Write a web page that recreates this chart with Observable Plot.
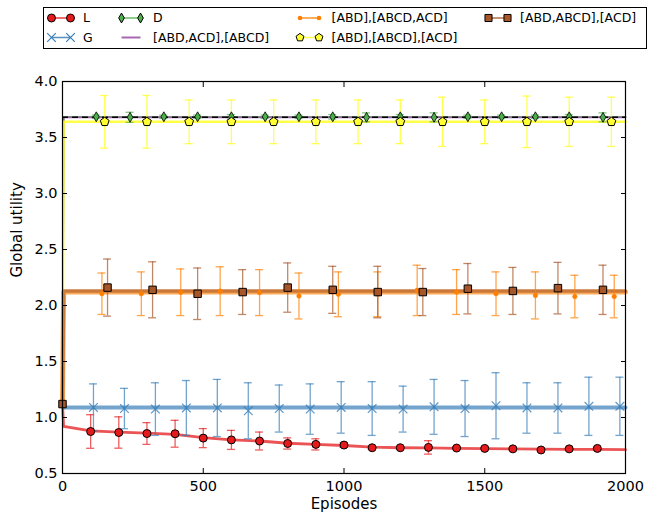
<!DOCTYPE html>
<html><head><meta charset="utf-8">
<script src="https://cdn.jsdelivr.net/npm/d3@7"></script>
<script src="https://cdn.jsdelivr.net/npm/@observablehq/plot@0.6"></script>
<style>
html,body{margin:0;padding:0;background:#fff;}
#wrap{position:relative;width:657px;height:515px;overflow:hidden;}
#wrap svg{position:absolute;left:0;top:0;}
</style></head><body><div id="wrap"></div>
<script>
// ---------- data ----------
const seriesNames = ["L","G","D","[ABD,ACD],[ABCD]","[ABD],[ABCD,ACD]","[ABD],[ABCD],[ACD]","[ABD,ABCD],[ACD]"];
const seriesColors = ["#e41a1c","#377eb8","#4daf4a","#984ea3","#ff7f00","#ffff33","#a65628"];

const xTicks = [0,500,1000,1500,2000];
const xTickLabels = ["0","500","1000","1500","2000"];
const yTicks = [0.5,1.0,1.5,2.0,2.5,3.0,3.5,4.0];
const yTickLabels = ["0.5","1.0","1.5","2.0","2.5","3.0","3.5","4.0"];

// running-average line (episodes grid)
const lineEpisodes = [0,4,100,200,300,400,500,600,700,800,900,1000,1100,1200,1300,1400,1500,1600,1700,1800,1900,2000];
const lineL      = [1.12,0.92,0.88,0.87,0.86,0.85,0.82,0.80,0.79,0.77,0.76,0.75,0.735,0.73,0.728,0.725,0.722,0.72,0.717,0.716,0.715,0.713];
const lineG      = [1.12,1.09,1.09,1.09,1.09,1.09,1.09,1.09,1.09,1.09,1.09,1.09,1.09,1.09,1.09,1.09,1.09,1.09,1.09,1.09,1.09,1.09];
const lineD      = [1.12,3.685,3.685,3.685,3.685,3.685,3.685,3.685,3.685,3.685,3.685,3.685,3.685,3.685,3.685,3.685,3.685,3.685,3.685,3.685,3.685,3.685];
const lineP      = [1.12,3.68,3.68,3.68,3.68,3.68,3.68,3.68,3.68,3.68,3.68,3.68,3.68,3.68,3.68,3.68,3.68,3.68,3.68,3.68,3.68,3.68];
const lineO      = [1.12,2.12,2.12,2.12,2.12,2.12,2.12,2.12,2.12,2.12,2.12,2.12,2.12,2.12,2.12,2.12,2.12,2.12,2.12,2.12,2.12,2.12];
const lineY      = [1.12,3.64,3.64,3.64,3.64,3.64,3.64,3.64,3.64,3.64,3.64,3.64,3.64,3.64,3.64,3.64,3.64,3.64,3.64,3.64,3.64,3.64];
const lineB      = [1.12,2.13,2.13,2.13,2.13,2.13,2.13,2.13,2.13,2.13,2.13,2.13,2.13,2.13,2.13,2.13,2.13,2.13,2.13,2.13,2.13,2.13];
const optimalUtility = 3.68;

// marker samples: episode, mean, error
const epL   = [100,200,300,400,500,600,700,800,900,1000,1100,1200,1300,1400,1500,1600,1700,1800,1900];
const meanL = [0.875,0.866,0.857,0.855,0.816,0.80,0.79,0.768,0.76,0.754,0.73,0.73,0.733,0.727,0.724,0.72,0.71,0.72,0.724];
const errL  = [0.15,0.14,0.097,0.12,0.085,0.085,0.08,0.05,0.05,0.02,0.012,0.012,0.06,0.012,0.01,0.01,0.01,0.01,0.012];

const epG   = [110,220,330,440,550,660,770,880,990,1100,1210,1320,1430,1540,1650,1760,1870,1980];
const meanG = [1.09,1.08,1.075,1.085,1.085,1.06,1.08,1.075,1.09,1.08,1.075,1.095,1.08,1.105,1.085,1.085,1.10,1.10];
const errG  = [0.21,0.18,0.235,0.245,0.255,0.25,0.21,0.225,0.23,0.24,0.205,0.245,0.25,0.295,0.225,0.225,0.26,0.26];

const epD   = [120,240,360,480,600,720,840,960,1080,1200,1320,1440,1560,1680,1800,1920];
const meanD = [3.685,3.68,3.685,3.685,3.685,3.685,3.685,3.685,3.68,3.685,3.68,3.685,3.685,3.685,3.685,3.68];
const errD  = [0.015,0.045,0.015,0.015,0.02,0.015,0.015,0.02,0.04,0.02,0.04,0.015,0.015,0.015,0.02,0.04];

const epO   = [140,280,420,560,700,840,980,1120,1260,1400,1540,1680,1820,1960];
const meanO = [2.105,2.105,2.118,2.128,2.115,2.085,2.10,2.10,2.135,2.12,2.105,2.09,2.08,2.08];
const errO  = [0.185,0.195,0.208,0.218,0.205,0.205,0.20,0.20,0.225,0.20,0.195,0.21,0.19,0.19];

const epY   = [150,300,450,600,750,900,1050,1200,1350,1500,1650,1800,1950];
const meanY = [3.64,3.64,3.64,3.64,3.64,3.64,3.64,3.64,3.64,3.64,3.64,3.64,3.64];
const errY  = [0.235,0.235,0.195,0.195,0.195,0.195,0.195,0.195,0.22,0.195,0.23,0.22,0.22];

const epB   = [0,160,320,480,640,800,960,1120,1280,1440,1600,1760,1920];
const meanB = [1.12,2.16,2.14,2.105,2.12,2.16,2.14,2.12,2.12,2.15,2.13,2.155,2.14];
const errB  = [0,0.255,0.25,0.23,0.20,0.22,0.21,0.23,0.21,0.225,0.21,0.23,0.22];

// ---------- helpers ----------
const pentagon = {draw(ctx, size) {
  const r = Math.sqrt(size / Math.PI) * 1.15;
  for (let k = 0; k < 5; ++k) {
    const a = -Math.PI / 2 + k * 2 * Math.PI / 5;
    const x = r * Math.cos(a), y = r * Math.sin(a);
    if (k) ctx.lineTo(x, y); else ctx.moveTo(x, y);
  }
  ctx.closePath();
}};
const thinDiamond = {draw(ctx, size) {
  const r = Math.sqrt(size / Math.PI);
  ctx.moveTo(0, -r * 1.3); ctx.lineTo(r * 0.75, 0); ctx.lineTo(0, r * 1.3); ctx.lineTo(-r * 0.75, 0); ctx.closePath();
}};

const lineRows = (vals) => lineEpisodes.map((e, i) => ({e, v: vals[i]}));
const sampleRows = (eps, m, er) => eps.map((e, i) => ({e, m: m[i], lo: m[i] - er[i], hi: m[i] + er[i], er: er[i]}));

const L = sampleRows(epL, meanL, errL);
const G = sampleRows(epG, meanG, errG);
const D = sampleRows(epD, meanD, errD);
const O = sampleRows(epO, meanO, errO);
const Yw = sampleRows(epY, meanY, errY);
const B = sampleRows(epB, meanB, errB);

function errorBars(rows, color, op = 0.7) {
  const r = rows.filter(d => d.er > 0);
  return [
    Plot.ruleX(r, {x: "e", y1: "lo", y2: "hi", stroke: color, strokeWidth: 1.3, strokeOpacity: op}),
    Plot.ruleY(r, {y: "lo", x1: "e", x2: "e", insetLeft: -4, insetRight: -4, stroke: color, strokeWidth: 1.3, strokeOpacity: op}),
    Plot.ruleY(r, {y: "hi", x1: "e", x2: "e", insetLeft: -4, insetRight: -4, stroke: color, strokeWidth: 1.3, strokeOpacity: op})
  ];
}

const C = seriesColors;
const chart = Plot.plot({
  width: 657, height: 515,
  marginLeft: 62, marginRight: 32, marginTop: 81, marginBottom: 42,
  x: {domain: [0, 2000]},
  y: {domain: [0.5, 4.0]},
  style: {fontFamily: "DejaVu Sans", fontSize: "14.5px", color: "black", background: "transparent", overflow: "visible"},
  marks: [
    // lines
    Plot.line(lineRows(lineL), {x: "e", y: "v", stroke: C[0], strokeWidth: 2.8, strokeOpacity: 0.75}),
    Plot.line(lineRows(lineG), {x: "e", y: "v", stroke: C[1], strokeWidth: 4, strokeOpacity: 0.7}),
    Plot.line(lineRows(lineD), {x: "e", y: "v", stroke: C[2], strokeWidth: 1.8, strokeOpacity: 0.8}),
    Plot.line(lineRows(lineP), {x: "e", y: "v", stroke: C[3], strokeWidth: 1.8, strokeOpacity: 0.85}),
    Plot.line(lineRows(lineO), {x: "e", y: "v", stroke: C[4], strokeWidth: 5, strokeOpacity: 0.65}),
    Plot.line(lineRows(lineY), {x: "e", y: "v", stroke: C[5], strokeWidth: 2.5, strokeOpacity: 0.9}),
    Plot.line(lineRows(lineB), {x: "e", y: "v", stroke: C[6], strokeWidth: 3.5, strokeOpacity: 0.6}),
    Plot.ruleY([optimalUtility], {x1: 0, x2: 2000, stroke: "black", strokeWidth: 1.5, strokeDasharray: "6,4"}),
    // error bars
    ...errorBars(L, C[0]),
    ...errorBars(G, C[1]),
    ...errorBars(D, C[2]),
    ...errorBars(O, C[4]),
    ...errorBars(Yw, C[5], 0.85),
    ...errorBars(B, C[6]),
    // markers
    Plot.dot(L, {x: "e", y: "m", r: 4, fill: C[0], stroke: "black", strokeWidth: 1}),
    Plot.dot(G, {x: "e", y: "m", r: 4, symbol: "times", stroke: C[1], strokeWidth: 1.2, strokeOpacity: 0.8}),
    Plot.dot(D, {x: "e", y: "m", r: 3.8, symbol: thinDiamond, fill: C[2], stroke: "black", strokeWidth: 0.8}),
    Plot.dot(O, {x: "e", y: "m", r: 2.3, fill: C[4], stroke: C[4], strokeWidth: 0.5}),
    Plot.dot(Yw, {x: "e", y: "m", r: 4, symbol: pentagon, fill: C[5], stroke: "black", strokeWidth: 1}),
    Plot.dot(B, {x: "e", y: "m", r: 4.2, symbol: "square", fill: C[6], stroke: "black", strokeWidth: 1}),
    // frame & axes
    Plot.frame({stroke: "black", strokeWidth: 1.2}),
    Plot.axisX(xTicks, {anchor: "bottom", tickSize: -5, tickPadding: 12, tickFormat: d => xTickLabels[xTicks.indexOf(d)], label: null}),
    Plot.axisX(xTicks, {anchor: "top", tickSize: -5, tickFormat: () => "", label: null}),
    Plot.axisY(yTicks, {anchor: "left", tickSize: -5, tickPadding: 10, tickFormat: d => yTickLabels[yTicks.indexOf(d)], label: null}),
    Plot.axisY(yTicks, {anchor: "right", tickSize: -5, tickFormat: () => "", label: null}),
    Plot.text(["Episodes"], {frameAnchor: "bottom", dy: 31, text: d => d, fontSize: 15, lineAnchor: "middle"}),
    Plot.text(["Global utility"], {frameAnchor: "left", dx: -45, rotate: -90, text: d => d, fontSize: 15, lineAnchor: "middle"})
  ]
});
document.getElementById("wrap").appendChild(chart);

// ---------- legend ----------
const leg = d3.select("#wrap").append("svg").attr("width", 657).attr("height", 55)
  .style("font-family", "DejaVu Sans").style("font-size", "12.5px");
leg.append("rect").attr("x", 43.5).attr("y", 7.5).attr("width", 603).attr("height", 41)
  .attr("fill", "white").attr("stroke", "black").attr("stroke-width", 1);
const rowY = [18, 37.5];
const colX = [51.5, 121.5, 300, 488.5];
const handleLen = 19;
const legendItems = [
  {i: 0, col: 0, row: 0, sym: "circle"},
  {i: 1, col: 0, row: 1, sym: "times"},
  {i: 2, col: 1, row: 0, sym: "thin"},
  {i: 3, col: 1, row: 1, sym: null},
  {i: 4, col: 2, row: 0, sym: "dot"},
  {i: 5, col: 2, row: 1, sym: "pent"},
  {i: 6, col: 3, row: 0, sym: "square"}
];
const symPath = {
  circle: d3.symbol(d3.symbolCircle, 50)(),
  times: d3.symbol(d3.symbolTimes, 50)(),
  thin: d3.symbol(thinDiamond, Math.PI * 3.8 * 3.8)(),
  dot: d3.symbol(d3.symbolCircle, Math.PI * 2.3 * 2.3)(),
  pent: d3.symbol(pentagon, Math.PI * 3.6 * 3.6)(),
  square: d3.symbol(d3.symbolSquare, 50)()
};
for (const it of legendItems) {
  const x0 = colX[it.col], y0 = rowY[it.row], col = seriesColors[it.i];
  leg.append("line").attr("x1", x0).attr("x2", x0 + handleLen).attr("y1", y0).attr("y2", y0)
    .attr("stroke", col).attr("stroke-width", it.sym ? 1.5 : 2).attr("stroke-opacity", 0.85);
  if (it.sym) {
    for (const x of [x0, x0 + handleLen]) {
      const p = leg.append("path").attr("d", symPath[it.sym]).attr("transform", `translate(${x},${y0})`);
      if (it.sym === "times") p.attr("fill", "none").attr("stroke", col).attr("stroke-width", 1.2);
      else if (it.sym === "dot") p.attr("fill", col);
      else p.attr("fill", col).attr("stroke", "black").attr("stroke-width", 1);
    }
  }
  leg.append("text").attr("x", x0 + handleLen + 12.5).attr("y", y0).attr("dy", "0.35em")
    .attr("fill", "black").text(seriesNames[it.i]);
}
</script>
</body></html>
